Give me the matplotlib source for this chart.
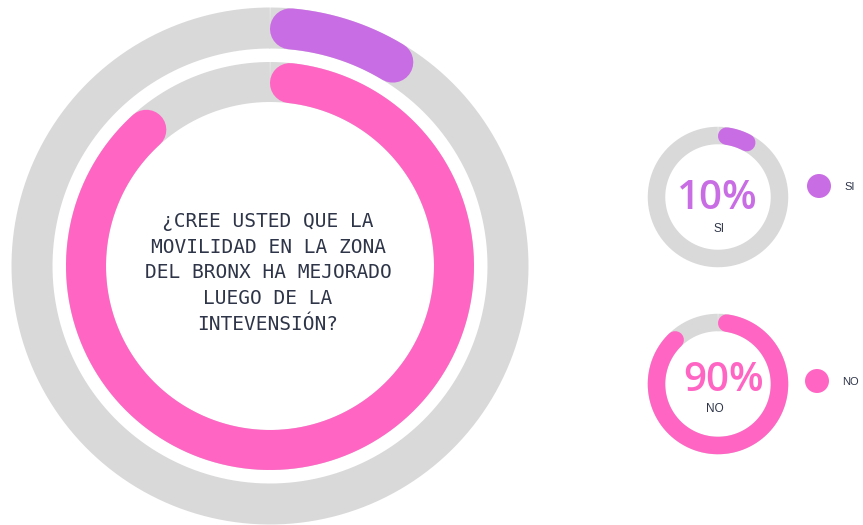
import matplotlib.pyplot as plt
import numpy as np

categories = ['SI', 'NO']
percentages = [10, 90]
colors = ['#C96DE4', '#FF66C4']
track_color = '#D9D9D9'
text_color = '#2E3548'
question = ('¿CREE USTED QUE LA\nMOVILIDAD EN LA ZONA\nDEL BRONX HA MEJORADO\n'
            'LUEGO DE LA\nINTEVENSIÓN?')

W, H = 863, 525
fig = plt.figure(figsize=(W / 100, H / 100), dpi=100)


def polar_ax(cx, cy, rmax):
    # polar axes placed by pixel centre, radial unit = 1 pixel
    ax = fig.add_axes([(cx - rmax) / W, (H - cy - rmax) / H, 2 * rmax / W, 2 * rmax / H],
                      projection='polar')
    ax.set_theta_zero_location('N')
    ax.set_theta_direction(-1)
    ax.set_ylim(0, rmax)
    ax.axis('off')
    ax.patch.set_alpha(0)
    return ax


def ring(ax, r, width, frac, color):
    lw = width * 0.72
    th = np.linspace(0, 2 * np.pi, 400)
    ax.plot(th, np.full_like(th, r), color=track_color, lw=lw, solid_capstyle='butt')
    off = (width / 2) / r  # keep the round caps inside the value span
    th = np.linspace(off, 2 * np.pi * frac - off, 300)
    ax.plot(th, np.full_like(th, r), color=color, lw=lw, solid_capstyle='round')


# big radial chart
big = polar_ax(270, 266, 264)
ring(big, 238, 41, percentages[0] / 100, colors[0])
ring(big, 184, 40, percentages[1] / 100, colors[1])

# small donuts
small_centres = [(718, 197), (718, 384)]
for (cx, cy), p, c in zip(small_centres, percentages, colors):
    ax = polar_ax(cx, cy, 74)
    ring(ax, 61.5, 17.5, p / 100, c)

# overlay for texts and legend dots, in pixel coordinates
ov = fig.add_axes([0, 0, 1, 1])
ov.set_xlim(0, W)
ov.set_ylim(H, 0)
ov.axis('off')
ov.patch.set_alpha(0)

ov.text(268, 273, question, ha='center', va='center', multialignment='center',
        family='DejaVu Sans Mono', fontsize=14, linespacing=1.45, color=text_color)

pct_x = [717, 724]
pct_base = [209, 391]
lab_x = [719, 715]
lab_base = [232, 412]
for i, (cat, p, c) in enumerate(zip(categories, percentages, colors)):
    ov.text(pct_x[i], pct_base[i], f'{p}%', ha='center', va='baseline',
            family='Open Sans', weight='semibold', fontsize=29, color=c)
    ov.text(lab_x[i], lab_base[i], cat, ha='center', va='baseline',
            family='Liberation Sans', fontsize=8.5, color=text_color)

legend_y = [186, 381]
legend_x = [819, 817]
ov.scatter(legend_x, legend_y, s=(24 * 0.72) ** 2, color=colors, linewidths=0)
for x, y, cat in zip(legend_x, legend_y, categories):
    ov.text(x + 25, y + 1, cat, ha='left', va='center',
            family='Liberation Sans', fontsize=8, color=text_color)

fig.savefig('out.png', dpi=100)
